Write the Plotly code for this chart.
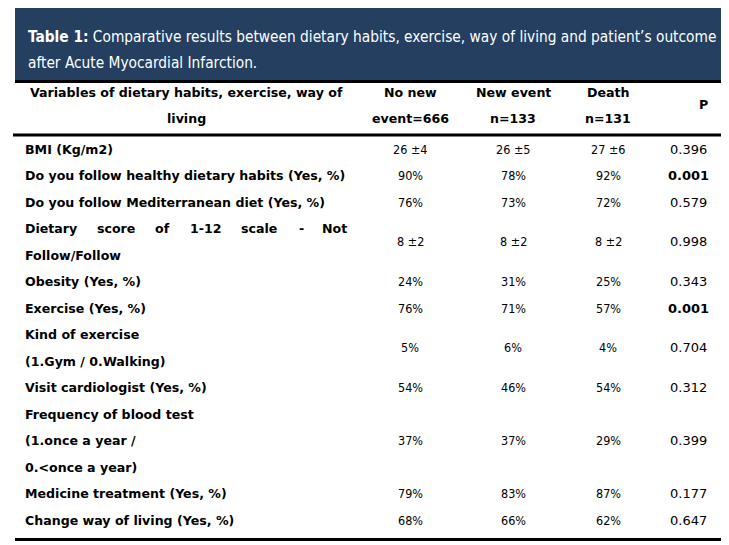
import plotly.graph_objects as go

title_bold = "Table 1:"
title_rest = [" Comparative results between dietary habits, exercise, way of living and patient\u2019s outcome",
              "after Acute Myocardial Infarction."]

header_first = ["Variables of dietary habits, exercise, way of", "living"]
group_headers = [["No new", "event=666"], ["New event", "n=133"], ["Death", "n=131"]]
p_header = "P"

row_labels = [
    ["BMI (Kg/m2)"],
    ["Do you follow healthy dietary habits (Yes, %)"],
    ["Do you follow Mediterranean diet (Yes, %)"],
    ["Dietary score of 1-12 scale - Not", "Follow/Follow"],
    ["Obesity (Yes, %)"],
    ["Exercise (Yes, %)"],
    ["Kind of exercise", "(1.Gym / 0.Walking)"],
    ["Visit cardiologist (Yes, %)"],
    ["Frequency of blood test", "(1.once a year /", "0.<once a year)"],
    ["Medicine treatment (Yes, %)"],
    ["Change way of living (Yes, %)"],
]
no_new_event = ["26 \u00b14", "90%", "76%", "8 \u00b12", "24%", "76%", "5%", "54%", "37%", "79%", "68%"]
new_event = ["26 \u00b15", "78%", "73%", "8 \u00b12", "31%", "71%", "6%", "46%", "37%", "83%", "66%"]
death = ["27 \u00b16", "92%", "72%", "8 \u00b12", "25%", "57%", "4%", "54%", "29%", "87%", "62%"]
p_values = ["0.396", "0.001", "0.579", "0.998", "0.343", "0.001", "0.704", "0.312", "0.399", "0.177", "0.647"]

W, H = 729, 545
OFF = 8  # page body margin
BLUE = "#243F60"
LABEL_FONT = "DejaVu Sans"
VAL_FONT = "DejaVu Sans Condensed, DejaVu Sans"
TITLE_FONT = "DejaVu Sans Condensed, DejaVu Sans"
LSIZE = 12.6

fig = go.Figure()
shapes = [
    dict(type="rect", x0=15, x1=723, y0=-2, y1=80, fillcolor=BLUE, line_width=0, layer="below"),
    dict(type="line", x0=15, x1=723, y0=81.5, y1=81.5, line=dict(color="black", width=3)),
    dict(type="line", x0=13, x1=722, y0=135, y1=135, line=dict(color="black", width=3)),
    dict(type="line", x0=15, x1=722, y0=539.5, y1=539.5, line=dict(color="black", width=3)),
]
ann = []

def text(x, y, s, size=13, bold=False, anchor="left", color="black", family=LABEL_FONT):
    ann.append(dict(x=x, y=y, xref="x", yref="y", text=("<b>%s</b>" % s) if bold else s,
                    showarrow=False, xanchor=anchor, yanchor="middle",
                    font=dict(size=size, color=color, family=family)))

# Title
text(26, 37, "<b>%s</b>%s" % (title_bold, title_rest[0]), size=15.3, color="white", family=TITLE_FONT)
text(26, 63, title_rest[1], size=15.3, color="white", family=TITLE_FONT)

# Header row
text(186, 92, header_first[0], size=LSIZE, bold=True, anchor="center")
text(186, 118, header_first[1], size=LSIZE, bold=True, anchor="center")
col_x = [410, 513, 608]
for cx, hdr in zip(col_x, group_headers):
    text(cx, 92, hdr[0], size=LSIZE, bold=True, anchor="center")
    text(cx, 118, hdr[1], size=LSIZE, bold=True, anchor="center")
text(703, 104, p_header, size=LSIZE, bold=True, anchor="center")

# Body
pitch = 26.5
y = 149
justify_x = [23, 95, 153, 188, 239, 297, 320]
for i, lines in enumerate(row_labels):
    ys = []
    for j, ln in enumerate(lines):
        ly = y + j * pitch
        ys.append(ly)
        if ln.startswith("Dietary score"):
            for wx, w in zip(justify_x, ln.split(" ")):
                text(wx, ly, w, size=LSIZE, bold=True)
        else:
            text(23, ly, ln, size=LSIZE, bold=True)
    yc = sum(ys) / len(ys)
    for cx, vals in zip(col_x, [no_new_event, new_event, death]):
        text(cx, yc, vals[i], size=12.5, family=VAL_FONT, anchor="center")
    pv = p_values[i]
    text(688, yc, pv, size=13, family=LABEL_FONT, anchor="center", bold=float(pv) < 0.05)
    y += pitch * len(lines)

fig.update_layout(
    width=W, height=H, margin=dict(l=0, r=0, t=0, b=0),
    paper_bgcolor="white", plot_bgcolor="white",
    xaxis=dict(range=[OFF, W + OFF], visible=False, fixedrange=True),
    yaxis=dict(range=[H + OFF, OFF], visible=False, fixedrange=True),
    shapes=shapes, annotations=ann, showlegend=False,
)
fig.write_html("out.html")
